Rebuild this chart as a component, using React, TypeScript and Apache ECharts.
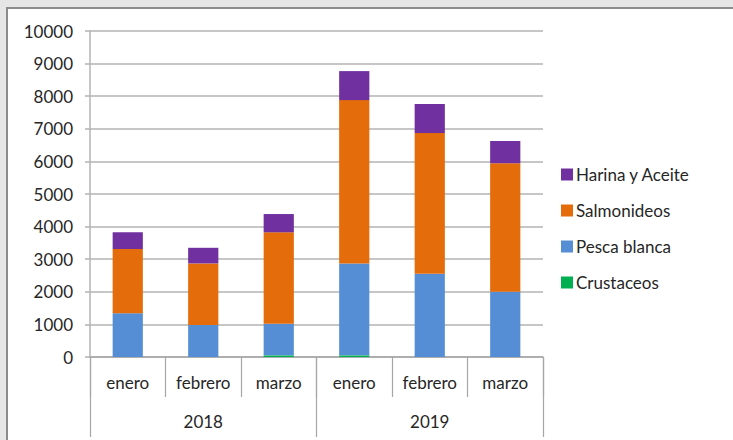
import React, { useEffect, useRef } from "react";
import * as echarts from "echarts";

const months = ["enero", "febrero", "marzo", "enero", "febrero", "marzo"];
const years = ["2018", "2019"];
const seriesNames = ["Crustaceos", "Pesca blanca", "Salmonideos", "Harina y Aceite"];
const crustaceos = [0, 0, 50, 50, 0, 0];
const pescaBlanca = [1340, 980, 970, 2820, 2550, 2000];
const salmonideos = [1975, 1890, 2805, 5010, 4320, 3940];
const harinaAceite = [510, 480, 560, 890, 890, 685];
const colors = ["#00b050", "#558ed5", "#e46c0a", "#7030a0"];
const yTicks = [0, 10000, 1000];

export default function App() {
  const ref = useRef<HTMLDivElement>(null);
  useEffect(() => {
    const chart = echarts.init(ref.current!, null, { renderer: "svg" });
    const font = "Lato";
    const values = [crustaceos, pescaBlanca, salmonideos, harinaAceite];
    chart.setOption({
      animation: false,
      textStyle: { fontFamily: font },
      grid: { left: 90, right: 190, top: 31, bottom: 83, containLabel: false },
      legend: {
        orient: "vertical",
        left: 556,
        top: 161,
        itemWidth: 12,
        itemHeight: 12,
        itemGap: 19,
        icon: "rect",
        data: ["Harina y Aceite", "Salmonideos", "Pesca blanca", "Crustaceos"],
        textStyle: { fontFamily: font, fontSize: 17, color: "#262626", padding: [0, 0, 0, -2] },
      },
      xAxis: [
        {
          type: "category",
          data: months,
          position: "bottom",
          axisLine: { show: true, lineStyle: { color: "#a6a6a6", width: 1.5 } },
          axisTick: { show: true, interval: 0, length: 40, lineStyle: { color: "#a6a6a6", width: 1.2 } },
          axisLabel: { interval: 0, margin: 17, fontSize: 17, color: "#262626", fontFamily: font },
        },
        {
          type: "category",
          data: years,
          position: "bottom",
          axisLine: { show: false },
          axisTick: { show: true, interval: 0, length: 80, lineStyle: { color: "#a6a6a6", width: 1.2 } },
          axisLabel: { interval: 0, margin: 56, fontSize: 17, color: "#262626", fontFamily: font },
        },
      ],
      yAxis: {
        type: "value",
        min: yTicks[0],
        max: yTicks[1],
        interval: yTicks[2],
        axisLine: { show: true, lineStyle: { color: "#b3b3b3", width: 1.5 } },
        axisTick: { show: true, length: 5, lineStyle: { color: "#b3b3b3", width: 1.5 } },
        splitLine: { show: true, lineStyle: { color: "#b3b3b3", width: 1.5 } },
        axisLabel: { margin: 17, fontSize: 17, color: "#262626", fontFamily: font, formatter: (v: number) => String(v) },
      },
      series: seriesNames.map((name, i) => ({
        name,
        type: "bar",
        stack: "total",
        xAxisIndex: 0,
        barWidth: "40%",
        itemStyle: { color: colors[i] },
        data: values[i],
      })),
    });
    return () => chart.dispose();
  }, []);
  return (
    <div style={{ position: "fixed", left: 0, top: 0, width: 733, height: 440, background: "#e6e6e6" }}>
      <div
        style={{
          position: "absolute",
          left: 6,
          top: 7,
          right: 0,
          bottom: 0,
          background: "#ffffff",
          borderTop: "2px solid #8c8c8c",
          borderLeft: "2px solid #8c8c8c",
        }}
      />
      <div ref={ref} style={{ position: "absolute", left: 0, top: 0, width: 733, height: 440 }} />
    </div>
  );
}
